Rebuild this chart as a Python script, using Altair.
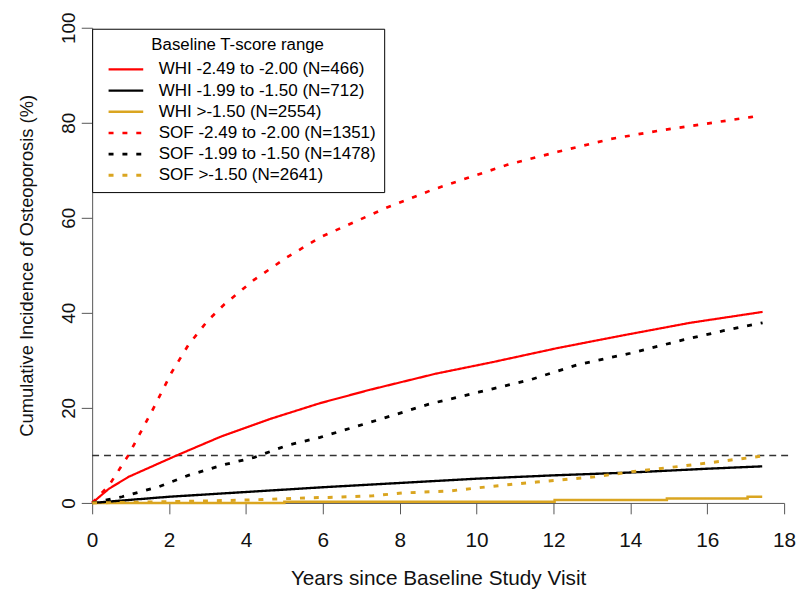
import altair as alt
import pandas as pd

# ---- data ----
series_names = [
    "WHI -2.49 to -2.00 (N=466)",
    "WHI -1.99 to -1.50 (N=712)",
    "WHI >-1.50 (N=2554)",
    "SOF -2.49 to -2.00 (N=1351)",
    "SOF -1.99 to -1.50 (N=1478)",
    "SOF >-1.50 (N=2641)",
]

whi_red_x = [0, 0.44, 0.95, 2.2, 3.36, 4.64, 5.93, 7.22, 8.94, 10.4, 12.11, 13.83, 15.55, 17.44]
whi_red_y = [0, 3.0, 5.5, 10.0, 14.0, 17.7, 21.0, 23.8, 27.2, 29.6, 32.6, 35.3, 37.9, 40.2]

whi_black_x = [0, 2, 4, 6, 8, 10, 12, 14, 16, 17.43]
whi_black_y = [0, 1.3, 2.3, 3.3, 4.2, 5.1, 5.8, 6.4, 7.2, 7.7]

whi_orange_x = [0, 5.0, 12.03, 14.95, 17.05, 17.43]
whi_orange_y = [0, 0.25, 0.6, 0.95, 1.3, 1.3]

sof_red_x = [0, 0.44, 0.94, 1.6, 2.07, 2.5, 3.0, 3.44, 4.22, 5.07, 5.93, 6.79, 7.65, 8.85,
             9.88, 10.82, 12.11, 13.49, 14.86, 15.97, 17.13, 17.35]
sof_red_y = [0, 3.7, 10.0, 20.0, 27.5, 33.2, 38.3, 41.8, 47.0, 51.7, 55.9, 59.0, 62.1, 65.9,
             68.7, 71.2, 73.9, 76.6, 78.5, 79.8, 81.2, 81.5]

sof_black_x = [0, 0.78, 1.73, 2.5, 3.36, 4.22, 5.07, 5.93, 6.79, 7.65, 8.76, 10.05, 11.43,
               12.63, 14.0, 15.37, 16.4, 17.44]
sof_black_y = [0, 1.3, 3.4, 5.8, 7.9, 9.6, 12.1, 13.8, 15.9, 18.0, 20.8, 23.3, 26.0,
               29.1, 31.5, 34.3, 36.2, 37.9]

sof_orange_x = [0, 2, 4, 5.7, 6.15, 7.3, 8.08, 9.28, 10.4, 11.56, 13.07, 14.17, 15.29,
                16.4, 17.18, 17.44]
sof_orange_y = [0, 0.25, 0.6, 1.1, 1.15, 1.5, 2.1, 2.5, 3.5, 4.4, 5.5, 6.7, 7.7,
                8.8, 9.6, 9.9]

x_ticks = [0, 2, 4, 6, 8, 10, 12, 14, 16, 18]
y_ticks = [0, 20, 40, 60, 80, 100]
ref_level = [10]

# ---- styles ----
series_colors = ["#FF0000", "#000000", "#DAA520", "#FF0000", "#000000", "#DAA520"]
series_dash = [[1, 0], [1, 0], [1, 0], [5, 9], [5, 9], [5, 9]]
series_width = [2.2, 3, 3, 4.5, 4.5, 4.5]

AXIS_FONT = "Liberation Sans, Arial"
LEGEND_FONT = "Liberation Sans, Arial"


def frame(name, xs, ys):
    return pd.DataFrame({"series": name, "years": xs, "incidence": ys})


smooth_df = pd.concat([
    frame(series_names[0], whi_red_x, whi_red_y),
    frame(series_names[1], whi_black_x, whi_black_y),
    frame(series_names[3], sof_red_x, sof_red_y),
    frame(series_names[4], sof_black_x, sof_black_y),
    frame(series_names[5], sof_orange_x, sof_orange_y),
], ignore_index=True)
step_df = frame(series_names[2], whi_orange_x, whi_orange_y)
ref_df = pd.DataFrame({"y": ref_level, "x0": [0], "x1": [18.2]})

color_scale = alt.Scale(domain=series_names, range=series_colors)
dash_scale = alt.Scale(domain=series_names, range=series_dash)
width_scale = alt.Scale(domain=series_names, range=series_width)

legend = alt.Legend(
    title="Baseline T-score range",
    orient="none", legendX=0, legendY=1,
    fillColor="white", strokeColor="black", padding=8,
    titleFont=LEGEND_FONT, titleFontSize=17, titleFontWeight="normal", titleColor="black",
    titleAnchor="middle", titlePadding=7.5, titleLimit=400,
    labelFont=LEGEND_FONT, labelFontSize=17.2, labelColor="black", labelOffset=42,
    labelLimit=400,
    symbolType="M0,0H7", symbolSize=100, symbolStrokeWidth=3.5, rowPadding=3.4,
)

x_enc = alt.X(
    "years:Q",
    scale=alt.Scale(domain=[0, 18], nice=False, zero=False),
    axis=alt.Axis(
        values=x_ticks, grid=False, title="Years since Baseline Study Visit",
        tickSize=11, labelPadding=27, labelFontSize=21, labelFont=AXIS_FONT,
        labelBaseline="middle",
        titleFont=AXIS_FONT, titleFontSize=21, titleFontWeight="normal",
        titleX=349.5, titleY=76.5, titleBaseline="middle", titleColor="#111",
        labelColor="#111", domainColor="#555", tickColor="#555", labelFlush=False,
    ),
)
y_enc = alt.Y(
    "incidence:Q",
    scale=alt.Scale(domain=[0, 100], nice=False),
    axis=alt.Axis(
        values=y_ticks, grid=False, title="Cumulative Incidence of Osteoporosis (%)",
        tickSize=11, labelPadding=3, labelFontSize=19, labelFont=AXIS_FONT,
        labelAngle=270, labelColor="#111",
        titleFont=AXIS_FONT, titleFontSize=18.5, titleFontWeight="normal",
        titleAngle=270, titleX=-66, titleY=240, titleBaseline="middle",
        titleAlign="center", titleColor="#111",
        domainColor="#555", tickColor="#555", labelFlush=False,
    ),
)
color_enc = alt.Color("series:N", scale=color_scale, legend=legend)
dash_enc = alt.StrokeDash("series:N", scale=dash_scale, legend=legend)
width_enc = alt.StrokeWidth("series:N", scale=width_scale, legend=None)

smooth = alt.Chart(smooth_df).mark_line(strokeCap="butt").encode(
    x=x_enc, y=y_enc, color=color_enc, strokeDash=dash_enc, strokeWidth=width_enc
)
step = alt.Chart(step_df).mark_line(interpolate="step-after", strokeCap="butt").encode(
    x=x_enc, y=y_enc, color=color_enc, strokeDash=dash_enc, strokeWidth=width_enc
)
ref = alt.Chart(ref_df).mark_rule(color="#333", strokeDash=[7, 5], strokeWidth=1.5).encode(
    x="x0:Q", x2="x1:Q", y="y:Q"
)

chart = alt.layer(ref, step, smooth).properties(
    width=699, height=480,
    autosize=alt.AutoSizeParams(type="none"),
    padding={"left": 85, "top": 17, "right": 12, "bottom": 85},
).configure_view(stroke=None)

chart.save("out.html", embed_options={"renderer": "svg", "actions": False})
